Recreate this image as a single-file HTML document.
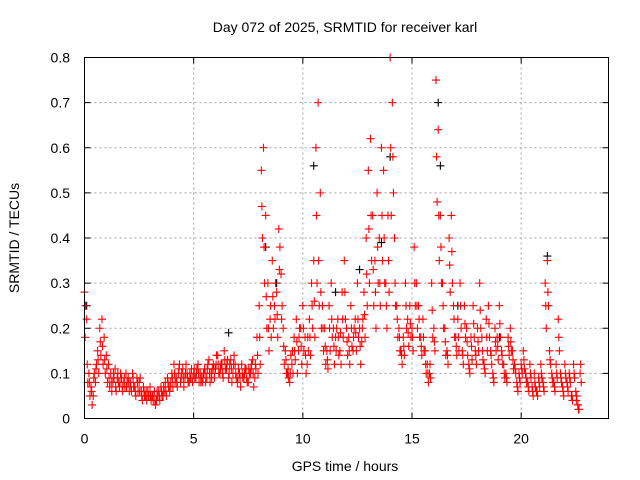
<!DOCTYPE html>
<html><head><meta charset="utf-8"><style>
body{margin:0;background:#fff}
svg{display:block;font-family:"Liberation Sans",sans-serif}
</style></head><body>
<svg id="chart" width="640" height="480">
<text x="345" y="32" font-size="14" text-anchor="middle">Day 072 of 2025, SRMTID for receiver karl</text>
<text x="345" y="471" font-size="14" text-anchor="middle">GPS time / hours</text>
<text transform="translate(19,238) rotate(-90)" font-size="14" text-anchor="middle">SRMTID / TECUs</text>
<g id="grid"></g><g id="ticks"></g><g id="pts"></g>
<rect x="84.5" y="57.5" width="524" height="361" fill="none" stroke="#000"/>
</svg>
<script>
const xTicks=[0,5,10,15,20];
const yTicks=[0,0.1,0.2,0.3,0.4,0.5,0.6,0.7,0.8];
const yTickLabels=["0","0.1","0.2","0.3","0.4","0.5","0.6","0.7","0.8"];
const redValues=[0.28,0.22,0.10,0.07,0.05,0.08,0.15,0.20,0.22,0.18,0.14,
0.12,0.10,0.08,0.11,0.09,0.07,0.09,0.08,0.10,0.09,
0.08,0.10,0.07,0.09,0.08,0.06,0.07,0.05,0.06,0.07,
0.05,0.06,0.04,0.06,0.07,0.05,0.08,0.09,0.06,0.10,
0.12,0.09,0.10,0.08,0.11,0.09,0.10,0.08,0.11,0.10,
0.09,0.12,0.10,0.08,0.11,0.09,0.13,0.10,0.12,0.11,
0.14,0.10,0.12,0.15,0.11,0.09,0.13,0.10,0.12,0.08,
0.10,0.12,0.09,0.11,0.08,0.10,0.13,0.09,0.18,0.25,
0.55,0.60,0.45,0.30,0.22,0.35,0.25,0.28,0.42,0.32,
0.20,0.15,0.10,0.08,0.12,0.18,0.22,0.15,0.20,0.25,
0.18,0.12,0.22,0.30,0.35,0.60,0.70,0.50,0.25,0.20,
0.15,0.25,0.30,0.20,0.18,0.22,0.15,0.28,0.35,0.20,
0.18,0.25,0.15,0.22,0.30,0.20,0.17,0.28,0.40,0.55,
0.62,0.45,0.35,0.50,0.40,0.60,0.55,0.30,0.45,0.80,
0.70,0.40,0.25,0.20,0.15,0.18,0.30,0.22,0.25,0.20,
0.38,0.30,0.25,0.18,0.22,0.15,0.12,0.10,0.30,0.20,
0.75,0.64,0.45,0.30,0.20,0.15,0.40,0.45,0.25,0.18,
0.22,0.30,0.15,0.25,0.20,0.12,0.18,0.25,0.15,0.20,
0.30,0.18,0.12,0.22,0.25,0.15,0.10,0.20,0.18,0.25,
0.15,0.12,0.10,0.18,0.20,0.15,0.12,0.08,0.10,0.12,
0.15,0.10,0.08,0.12,0.07,0.10,0.06,0.09,0.12,0.08,
0.30,0.35,0.15,0.10,0.08,0.12,0.22,0.10,0.07,0.12,
0.08,0.10,0.05,0.12,0.06,0.03,0.10];
const redValues2=[0.25,0.08,0.05,0.03,0.10,0.12,0.10,0.14,0.12,0.10,0.08,
0.07,0.06,0.09,0.06,0.08,0.10,0.06,0.07,0.08,0.06,
0.06,0.07,0.05,0.06,0.09,0.04,0.05,0.04,0.05,0.04,
0.04,0.03,0.05,0.04,0.05,0.06,0.05,0.07,0.08,0.07,
0.08,0.07,0.12,0.10,0.07,0.12,0.08,0.09,0.08,0.09,
0.11,0.08,0.09,0.10,0.08,0.12,0.08,0.11,0.09,0.14,
0.10,0.12,0.09,0.11,0.13,0.12,0.08,0.14,0.09,0.11,
0.07,0.09,0.11,0.08,0.10,0.12,0.07,0.11,0.10,0.12,
0.40,0.30,0.20,0.15,0.18,0.20,0.30,0.18,0.38,0.25,
0.12,0.10,0.09,0.14,0.10,0.13,0.10,0.20,0.12,0.15,
0.10,0.15,0.14,0.20,0.18,0.30,0.25,0.20,0.15,0.12,
0.11,0.15,0.18,0.12,0.20,0.14,0.12,0.18,0.22,0.14,
0.12,0.16,0.20,0.15,0.18,0.12,0.22,0.18,0.25,0.30,
0.35,0.25,0.20,0.30,0.25,0.35,0.30,0.20,0.28,0.45,
0.50,0.25,0.18,0.15,0.12,0.14,0.20,0.16,0.18,0.15,
0.25,0.20,0.18,0.14,0.15,0.10,0.08,0.09,0.18,0.15,
0.48,0.35,0.30,0.20,0.14,0.12,0.28,0.30,0.18,0.14,
0.15,0.20,0.12,0.18,0.14,0.10,0.13,0.18,0.12,0.15,
0.20,0.13,0.10,0.15,0.18,0.12,0.08,0.15,0.13,0.18,
0.12,0.09,0.08,0.14,0.15,0.11,0.10,0.06,0.08,0.10,
0.11,0.08,0.06,0.09,0.05,0.07,0.05,0.07,0.09,0.06,
0.20,0.25,0.12,0.08,0.06,0.09,0.15,0.08,0.05,0.09,
0.06,0.08,0.04,0.09,0.05,0.02,0.08];
const redValues3=[0.18,0.12,0.08,0.06,0.09,0.11,0.13,0.17,0.16,0.13,0.11,
0.09,0.08,0.10,0.07,0.10,0.08,0.07,0.09,0.07,0.08,
0.07,0.09,0.06,0.08,0.06,0.05,0.06,0.06,0.05,0.05,
0.05,0.04,0.06,0.05,0.06,0.07,0.06,0.08,0.07,0.09,
0.10,0.08,0.11,0.09,0.09,0.10,0.09,0.10,0.09,0.11,
0.10,0.10,0.08,0.09,0.10,0.11,0.10,0.09,0.11,0.12,
0.12,0.11,0.10,0.13,0.12,0.10,0.11,0.12,0.10,0.09,
0.09,0.10,0.10,0.09,0.11,0.11,0.10,0.12,0.14,0.18,
0.47,0.38,0.27,0.20,0.25,0.27,0.22,0.23,0.33,0.22,
0.16,0.13,0.11,0.10,0.15,0.15,0.17,0.18,0.16,0.20,
0.14,0.18,0.18,0.25,0.26,0.45,0.35,0.28,0.20,0.16,
0.13,0.20,0.22,0.16,0.15,0.18,0.19,0.22,0.28,0.17,
0.15,0.20,0.18,0.19,0.22,0.16,0.20,0.23,0.32,0.42,
0.45,0.33,0.28,0.38,0.30,0.45,0.40,0.25,0.35,0.60,
0.58,0.30,0.22,0.18,0.14,0.16,0.25,0.19,0.21,0.18,
0.30,0.25,0.22,0.16,0.18,0.12,0.10,0.12,0.24,0.17,
0.58,0.45,0.38,0.25,0.17,0.14,0.34,0.37,0.22,0.16,
0.18,0.25,0.14,0.21,0.17,0.11,0.16,0.21,0.14,0.17,
0.24,0.15,0.11,0.18,0.21,0.14,0.09,0.17,0.16,0.21,
0.14,0.10,0.09,0.16,0.17,0.13,0.11,0.07,0.09,0.11,
0.13,0.09,0.07,0.10,0.06,0.08,0.06,0.08,0.10,0.07,
0.25,0.28,0.13,0.09,0.07,0.10,0.18,0.09,0.06,0.10,
0.07,0.09,0.05,0.10,0.04,0.02,0.12];
const blackTimes=[0.1,6.6,8.3,8.8,10.5,11.5,12.6,13.6,14.0,16.2,16.3,17.1,19.0,21.2,22.6];
const blackValues=[0.25,0.19,0.38,0.30,0.56,0.28,0.33,0.39,0.58,0.70,0.56,0.25,0.18,0.36,0.03];
const xMin=0,xMax=24,yMin=0,yMax=0.8;
const L=84.5,R=608.5,T=57.5,B=418.5;
const sx=v=>L+(v-xMin)/(xMax-xMin)*(R-L);
const sy=v=>B-(v-yMin)/(yMax-yMin)*(B-T);
const NS="http://www.w3.org/2000/svg";
const grid=document.getElementById('grid'),ticks=document.getElementById('ticks'),pts=document.getElementById('pts');
function mk(tag,attrs,parent){const e=document.createElementNS(NS,tag);for(const k in attrs)e.setAttribute(k,attrs[k]);parent.appendChild(e);return e;}
xTicks.forEach(t=>{
 const x=sx(t);
 if(t>xMin){const g=mk('line',{x1:x,x2:x,y1:T,y2:B,stroke:'#a0a0a0','stroke-dasharray':'2,3'},grid);
 
 }
 mk('line',{x1:x,x2:x,y1:B,y2:B-6,stroke:'#000'},ticks);
 mk('line',{x1:x,x2:x,y1:T,y2:T+6,stroke:'#000'},ticks);
 const tx=mk('text',{x:x,y:B+25,'font-size':14,'text-anchor':'middle'},ticks);tx.textContent=t;
 
 
});
yTicks.forEach((t,i)=>{
 const y=sy(t);
 if(t>yMin&&t<yMax){const g=mk('line',{x1:L,x2:R,y1:y,y2:y,stroke:'#a0a0a0','stroke-dasharray':'2,3'},grid);
 
 }
 mk('line',{x1:L,x2:L+6,y1:y,y2:y,stroke:'#000'},ticks);
 mk('line',{x1:R,x2:R-6,y1:y,y2:y,stroke:'#000'},ticks);
 const tx=mk('text',{x:70,y:y+5,'font-size':14,'text-anchor':'end'},ticks);tx.textContent=yTickLabels[i];
 
 
});
function plus(t,v,color,name){
 const x=sx(t),y=sy(v);
 const p=mk('path',{d:`M${x-4},${y}h8M${x},${y-4}v8`,stroke:color,'stroke-width':1.1,fill:'none'},pts);
 
 
}
blackTimes.forEach((t,i)=>plus(t,blackValues[i],'#000','black-point'));
redValues.forEach((v,i)=>plus(i*0.1,v,'#ff0000','red-point'));
redValues2.forEach((v,i)=>plus(i*0.1+0.05,v,'#ff0000','red-point'));
redValues3.forEach((v,i)=>plus(i*0.1+0.025,v,'#ff0000','red-point'));
</script>
</body></html>
